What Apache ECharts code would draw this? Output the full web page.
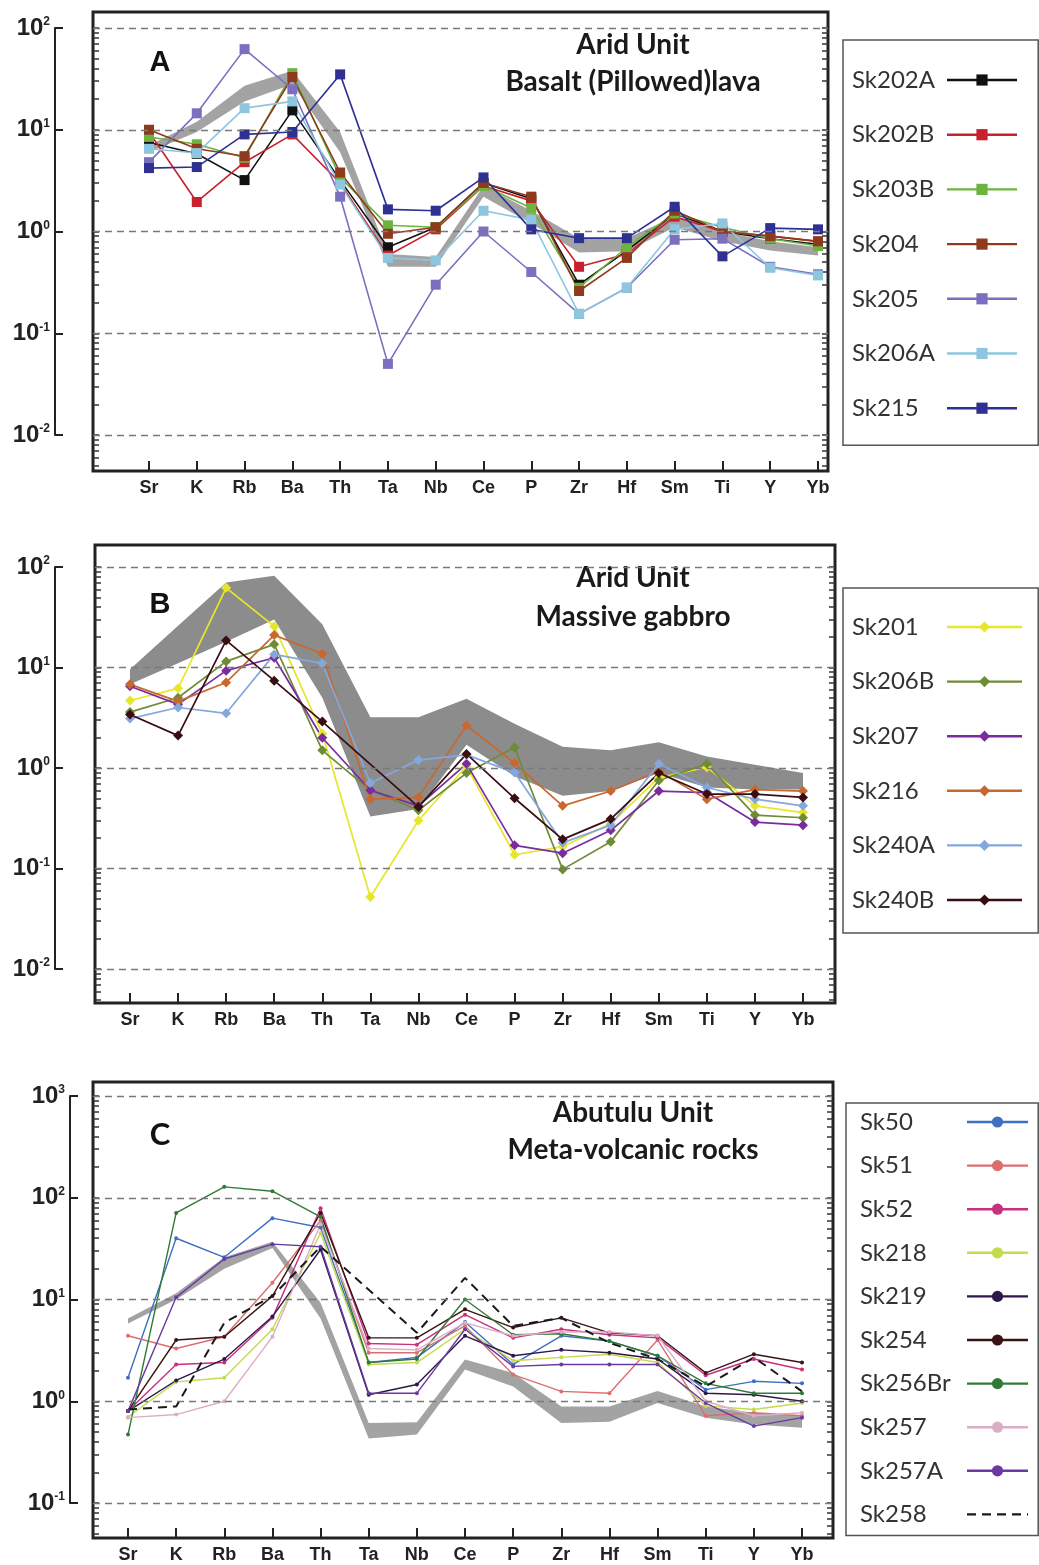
<!DOCTYPE html>
<html>
<head>
<meta charset="utf-8">
<script src="https://cdn.jsdelivr.net/npm/echarts@6/dist/echarts.min.js"></script>
<style>
html, body { margin: 0; padding: 0; background: #fff; }
#main { width: 1039px; height: 1565px; }
</style>
</head>
<body>
<div id="main"></div>
<script>
var elements = ['Sr', 'K', 'Rb', 'Ba', 'Th', 'Ta', 'Nb', 'Ce', 'P', 'Zr', 'Hf', 'Sm', 'Ti', 'Y', 'Yb'];

// panel A - Arid Unit, basalt (pillowed) lava
var namesA = ['Sk202A', 'Sk202B', 'Sk203B', 'Sk204', 'Sk205', 'Sk206A', 'Sk215'];
var colorsA = ['#111111', '#c8202c', '#6db33f', '#8e3a1c', '#7a70bf', '#8ec6df', '#2e3192'];
var sk202A = [7.5, 5.8, 3.2, 15.5, 3.2, 0.7, 1.1, 3.0, 2.1, 0.30, 0.65, 1.5, 1.0, 0.85, 0.75];
var sk202B = [9.5, 1.95, 4.8, 9.0, 3.0, 0.58, 1.05, 2.8, 2.0, 0.45, 0.6, 1.4, 1.0, 0.9, 0.8];
var sk203B = [8.5, 7.2, 5.3, 36, 3.4, 1.15, 1.1, 2.8, 1.7, 0.28, 0.7, 1.5, 1.1, 0.85, 0.72];
var sk204 = [10, 6.5, 5.5, 33, 3.8, 0.95, 1.1, 3.0, 2.2, 0.26, 0.55, 1.6, 1.0, 0.9, 0.8];
var sk205 = [4.8, 14.5, 62, 25, 2.2, 0.05, 0.3, 1.0, 0.4, 0.155, 0.28, 0.83, 0.85, 0.45, 0.38];
var sk206A = [6.5, 5.9, 16.3, 19, 2.9, 0.55, 0.52, 1.6, 1.3, 0.155, 0.28, 1.05, 1.2, 0.44, 0.37];
var sk215 = [4.2, 4.3, 9.0, 9.5, 35, 1.65, 1.6, 3.4, 1.05, 0.86, 0.86, 1.75, 0.57, 1.08, 1.05];
var bandLowA = [6.0, 9.5, 19, 28, 6.0, 0.45, 0.45, 2.2, 1.2, 0.62, 0.64, 1.1, 0.8, 0.65, 0.58];
var bandHighA = [7.0, 12, 27, 38, 9.5, 0.6, 0.56, 2.8, 1.6, 0.86, 0.86, 1.4, 1.0, 0.8, 0.7];
var yTicksA = [0.01, 0.1, 1, 10, 100];

// panel B - Arid Unit, massive gabbro
var namesB = ['Sk201', 'Sk206B', 'Sk207', 'Sk216', 'Sk240A', 'Sk240B'];
var colorsB = ['#e8e62a', '#6f8c35', '#7a2c9e', '#c8682f', '#85a8dc', '#3a0d12'];
var sk201 = [4.7, 6.2, 62, 25.7, 2.2, 0.052, 0.30, 1.04, 0.137, 0.165, 0.28, 0.8, 1.02, 0.42, 0.36];
var sk206B = [3.6, 5.0, 11.5, 17, 1.5, 0.6, 0.38, 0.89, 1.6, 0.098, 0.185, 0.75, 1.1, 0.34, 0.32];
var sk207 = [6.5, 4.3, 9.3, 12.5, 2.0, 0.6, 0.42, 1.1, 0.17, 0.142, 0.24, 0.59, 0.57, 0.29, 0.27];
var sk216 = [6.8, 4.6, 7.1, 21, 13.7, 0.49, 0.51, 2.65, 1.12, 0.42, 0.59, 0.93, 0.49, 0.61, 0.59];
var sk240A = [3.1, 4.0, 3.5, 13.5, 11, 0.71, 1.2, 1.35, 0.9, 0.18, 0.27, 1.1, 0.64, 0.49, 0.42];
var sk240B = [3.4, 2.1, 18.6, 7.4, 2.9, null, 0.41, 1.38, 0.50, 0.195, 0.31, 0.89, 0.55, 0.55, 0.51];
var bandLowB = [6.8, 11, 18, 30, 5.0, 0.33, 0.39, 1.7, 0.83, 0.53, 0.59, 0.89, 0.64, 0.61, 0.61];
var bandHighB = [9.6, 26, 70, 82, 27, 3.2, 3.2, 4.9, 2.75, 1.63, 1.5, 1.8, 1.3, 1.08, 0.89];
var yTicksB = [0.01, 0.1, 1, 10, 100];

// panel C - Abutulu Unit, meta-volcanic rocks
var namesC = ['Sk50', 'Sk51', 'Sk52', 'Sk218', 'Sk219', 'Sk254', 'Sk256Br', 'Sk257', 'Sk257A', 'Sk258'];
var colorsC = ['#3f6fc1', '#db6f6f', '#c8307f', '#c5da4c', '#2d1848', '#3a1414', '#2f7a34', '#dcaec6', '#6a3aa0', '#1a1a1a'];
var sk50 = [1.7, 40, 26, 63, 51, 2.4, 2.7, 6.0, 2.3, 4.4, 3.9, 2.8, 1.3, 1.57, 1.5];
var sk51 = [4.4, 3.3, 4.3, 14.6, 60, 3.0, 3.0, 5.5, 1.83, 1.25, 1.2, 4.0, 0.72, 0.77, 0.72];
var sk52 = [0.8, 2.3, 2.4, 6.6, 79, 3.7, 3.6, 7.1, 4.2, 5.1, 4.5, 4.2, 1.8, 2.6, 2.05];
var sk218 = [0.7, 1.55, 1.7, 5.1, 45, 2.3, 2.4, 5.1, 2.5, 2.7, 2.9, 2.4, 0.9, 0.83, 0.96];
var sk219 = [0.8, 1.6, 2.6, 6.8, 31, 1.16, 1.46, 4.4, 2.8, 3.2, 3.0, 2.6, 1.2, 1.16, 1.0];
var sk254 = [0.8, 4.0, 4.3, 10.8, 71, 4.2, 4.2, 8.0, 5.3, 6.6, 4.7, 4.4, 1.9, 2.9, 2.4];
var sk256Br = [0.47, 71, 128, 116, 65, 2.4, 2.6, 10, 4.5, 4.6, 3.9, 2.8, 1.5, 1.2, 1.2];
var sk257 = [0.69, 0.74, 1.0, 4.3, 55, 3.3, 3.2, 5.9, 4.4, 4.8, 4.8, 4.4, 1.0, 0.72, 0.77];
var sk257A = [0.8, 10.5, 25, 35, 33, 1.2, 1.2, 5.1, 2.2, 2.3, 2.3, 2.3, 0.96, 0.57, 0.69];
var sk258 = [0.83, 0.89, 5.9, 10.8, 33, null, 4.7, 16.3, 5.5, 6.6, 3.75, 2.6, 1.4, 2.7, 1.25];
var bandLowC = [5.8, 10, 20, 32, 6.5, 0.43, 0.47, 2.05, 1.4, 0.61, 0.63, 0.96, 0.69, 0.59, 0.55];
var bandHighC = [6.5, 11.5, 26, 37, 9.3, 0.61, 0.62, 2.57, 1.9, 0.89, 0.89, 1.26, 0.89, 0.77, 0.72];
var yTicksC = [0.1, 1, 10, 100, 1000];

var panels = [
    {
        box: {left: 93, top: 12, width: 735, height: 459},
        plot: {left: 149, top: 28, width: 669, height: 407},
        axisX: 55, ticks: yTicksA,
        names: namesA, colors: colorsA,
        values: [sk202A, sk202B, sk203B, sk204, sk205, sk206A, sk215],
        band: [bandLowA, bandHighA], bandColor: '#a3a3a3',
        symbol: 'rect', symbolSize: 10, lineWidth: 1.6,
        letter: {text: 'A', x: 160, y: 63, font: 'bold 29px Arial'},
        titles: [['Arid Unit', 45], ['Basalt (Pillowed)lava', 82]],
        legend: {left: 843, top: 40, gap: 24.7, pad: [25, 20, 22, 9], textW: 90, iconW: 70}
    },
    {
        box: {left: 95, top: 545, width: 740, height: 458},
        plot: {left: 130, top: 567, width: 673, height: 402},
        axisX: 55, ticks: yTicksB,
        names: namesB, colors: colorsB,
        values: [sk201, sk206B, sk207, sk216, sk240A, sk240B],
        band: [bandLowB, bandHighB], bandColor: '#8c8c8c',
        symbol: 'diamond', symbolSize: 10, lineWidth: 1.7,
        letter: {text: 'B', x: 160, y: 605, font: 'bold 29px Arial'},
        titles: [['Arid Unit', 578], ['Massive gabbro', 617]],
        legend: {left: 843, top: 588, gap: 24.6, pad: [24, 15, 18, 9], textW: 90, iconW: 75}
    },
    {
        box: {left: 93, top: 1082, width: 740, height: 456},
        plot: {left: 128, top: 1096, width: 674, height: 407},
        axisX: 70, ticks: yTicksC,
        names: namesC, colors: colorsC,
        values: [sk50, sk51, sk52, sk218, sk219, sk254, sk256Br, sk257, sk257A, sk258],
        band: [bandLowC, bandHighC], bandColor: '#a3a3a3',
        symbol: 'circle', symbolSize: 4, lineWidth: 1.4,
        letter: {text: 'C', x: 160, y: 1135, font: 'bold 31px Lato'},
        titles: [['Abutulu Unit', 1113], ['Meta-volcanic rocks', 1150]],
        legend: {left: 846, top: 1103, gap: 13.6, pad: [4, 9, 6, 14], textW: 102, iconW: 61}
    }
];

var option = {
    animation: false,
    backgroundColor: '#ffffff',
    grid: [], xAxis: [], yAxis: [], series: [], legend: [], graphic: []
};

panels.forEach(function (p, pi) {
    var gBox = option.grid.length;
    var gPlot = gBox + 1;
    option.grid.push({left: p.box.left, top: p.box.top, width: p.box.width, height: p.box.height,
        show: true, borderColor: '#222', borderWidth: 3});
    option.grid.push({left: p.plot.left, top: p.plot.top, width: p.plot.width, height: p.plot.height});

    // box axes in log10 units so the dashed decade lines can run the full box width
    var eMin = Math.log10(p.ticks[0]);
    var eMax = Math.log10(p.ticks[p.ticks.length - 1]);
    var dpx = p.plot.height / (eMax - eMin);
    var boxMax = eMax + (p.plot.top - p.box.top) / dpx;
    var boxMin = eMin - (p.box.top + p.box.height - p.plot.top - p.plot.height) / dpx;

    // log minor tick positions along the frame
    var minorVals = [];
    for (var e = Math.floor(boxMin); e < boxMax; e++) {
        for (var k = 1; k < 10; k++) {
            var lv = e + Math.log10(k);
            if (lv > boxMin + 0.01 && lv < boxMax - 0.01) minorVals.push(lv);
        }
    }

    var xBox = option.xAxis.length;
    option.xAxis.push({gridIndex: gBox, type: 'value', min: 0, max: 1, show: false});
    var yBox = option.yAxis.length;
    ['left', 'right'].forEach(function (side) {
        option.yAxis.push({
            gridIndex: gBox, type: 'value', min: boxMin, max: boxMax, position: side,
            axisLine: {show: false}, axisLabel: {show: false}, splitLine: {show: false},
            axisTick: {show: true, inside: true, length: 6, customValues: minorVals,
                lineStyle: {color: '#333', width: 1.5}}
        });
    });

    var xPlot = option.xAxis.length;
    option.xAxis.push({
        gridIndex: gPlot, type: 'category', data: elements, boundaryGap: false, position: 'bottom',
        offset: p.box.top + p.box.height - p.plot.top - p.plot.height,
        axisLine: {show: false},
        axisTick: {show: true, inside: true, length: 10, lineStyle: {color: '#222', width: 2}},
        axisLabel: {margin: 8, color: '#222', fontFamily: 'Arial', fontWeight: 'bold', fontSize: 18},
        splitLine: {show: false}
    });
    var yPlot = option.yAxis.length;
    option.yAxis.push({
        gridIndex: gPlot, type: 'log', logBase: 10, min: p.ticks[0], max: p.ticks[p.ticks.length - 1],
        position: 'left', offset: p.plot.left - p.axisX,
        axisLine: {show: true, lineStyle: {color: '#222', width: 2}},
        axisTick: {show: true, inside: true, length: 8, lineStyle: {color: '#222', width: 2}},
        splitLine: {show: false},
        axisLabel: {
            margin: 5,
            formatter: function (v) {
                return '{b|10}{s|' + Math.round(Math.log10(v)) + '}';
            },
            rich: {
                b: {fontFamily: 'Arial', fontWeight: 'bold', fontSize: 24, color: '#222'},
                s: {fontFamily: 'Arial', fontWeight: 'bold', fontSize: 12, color: '#222', verticalAlign: 'top'}
            }
        }
    });

    option.series.push({
        type: 'line', xAxisIndex: xBox, yAxisIndex: yBox, data: [], silent: true,
        markLine: {
            silent: true, symbol: ['none', 'none'], label: {show: false},
            lineStyle: {color: '#7a7a7a', type: [7, 5], width: 1.3},
            data: p.ticks.map(function (t) { return {yAxis: Math.log10(t)}; })
        }
    });

    // reference band: lower edge plus stacked thickness
    var stackId = 'band' + pi;
    option.series.push({
        type: 'line', xAxisIndex: xPlot, yAxisIndex: yPlot, data: p.band[0], stack: stackId,
        symbol: 'none', silent: true, lineStyle: {width: 0, opacity: 0}, z: 1
    });
    option.series.push({
        type: 'line', xAxisIndex: xPlot, yAxisIndex: yPlot, stack: stackId,
        data: p.band[1].map(function (h, i) { return h - p.band[0][i]; }),
        symbol: 'none', silent: true, lineStyle: {width: 0, opacity: 0},
        areaStyle: {color: p.bandColor, opacity: 1}, z: 1
    });

    var legendData = [];
    p.names.forEach(function (name, i) {
        var dashed = name === 'Sk258';
        option.series.push({
            type: 'line', name: name, xAxisIndex: xPlot, yAxisIndex: yPlot,
            data: p.values[i], connectNulls: true,
            symbol: dashed ? 'none' : p.symbol, symbolSize: p.symbolSize,
            color: p.colors[i],
            itemStyle: {color: p.colors[i]},
            lineStyle: {color: p.colors[i], width: dashed ? 2 : p.lineWidth, type: dashed ? [9, 6] : 'solid'},
            z: 3
        });
        legendData.push(dashed ? {name: name, itemStyle: {opacity: 0}} : {name: name});
    });

    option.legend.push({
        data: legendData, orient: 'vertical', left: p.legend.left, top: p.legend.top,
        itemGap: p.legend.gap, itemWidth: p.legend.iconW, itemHeight: 14, align: 'right',
        padding: p.legend.pad, borderColor: '#555', borderWidth: 1.5, selectedMode: false,
        formatter: '{n|{name}}',
        textStyle: {
            fontFamily: 'Lato', fontSize: 24, color: '#333', lineHeight: 30,
            rich: {n: {width: p.legend.textW, align: 'left', fontFamily: 'Lato', fontSize: 24, color: '#333', lineHeight: 30}}
        },
        lineStyle: {width: 2.4}
    });

    option.graphic.push({
        type: 'text', x: p.letter.x, y: p.letter.y,
        style: {text: p.letter.text, font: p.letter.font, fill: '#111', align: 'center', verticalAlign: 'middle'}
    });
    p.titles.forEach(function (t) {
        option.graphic.push({
            type: 'text', x: 633, y: t[1],
            style: {text: t[0], font: 'bold 28px Lato', fill: '#1a1a1a', align: 'center', verticalAlign: 'middle'}
        });
    });
});

var myChart = echarts.init(document.getElementById('main'));
myChart.setOption(option);
</script>
</body>
</html>
